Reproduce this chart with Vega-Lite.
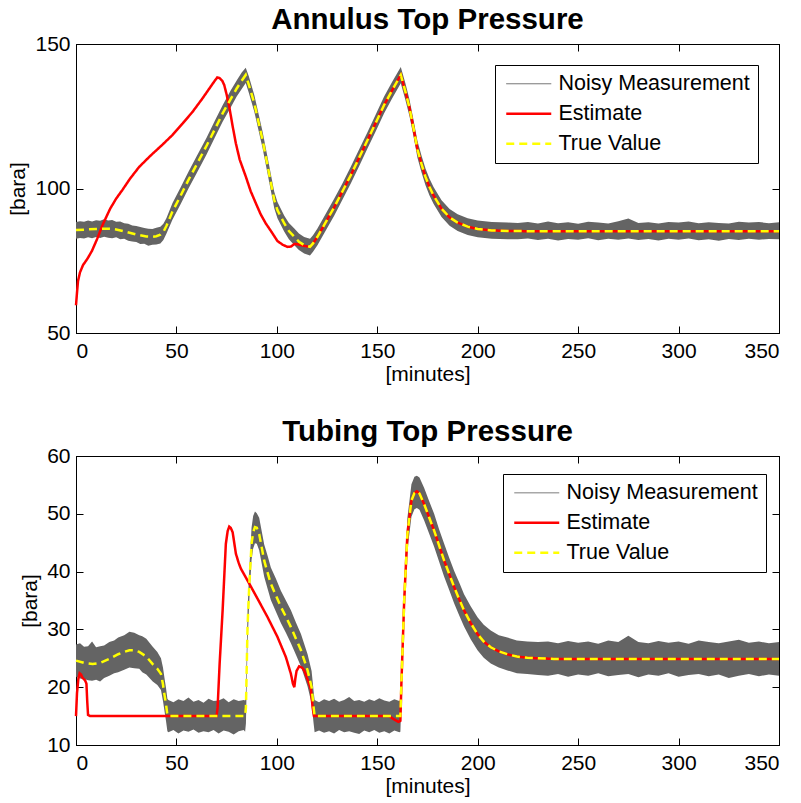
{
  "$schema": "https://vega.github.io/schema/vega-lite/v6.json",
  "background": "white",
  "padding": {"left": 7, "top": 4, "right": 4, "bottom": 4},
  "bounds": "flush",
  "spacing": 123,
  "config": {
    "font": "Liberation Sans",
    "view": {"stroke": "black", "strokeWidth": 1},
    "title": {"fontSize": 29.5, "fontWeight": "bold", "color": "black", "frame": "group", "anchor": "middle", "offset": -2, "font": "Liberation Sans"},
    "axis": {
      "grid": false, "domainColor": "black", "tickColor": "black", "labelColor": "black", "titleColor": "black",
      "labelFontSize": 21, "titleFontSize": 21, "titleFontWeight": "normal", "tickSize": -7, "labelPadding": 14, "titlePadding": 2,
      "labelFont": "Liberation Sans", "titleFont": "Liberation Sans"
    },
    "axisY": {"labelPadding": 13, "titlePadding": 6},
    "legend": {
      "title": null, "labelFontSize": 21.5, "labelColor": "black", "labelFont": "Liberation Sans", "labelLimit": 0,
      "symbolType": "M-1,0H5", "symbolSize": 225, "labelOffset": 34, "padding": 8, "rowPadding": 7,
      "strokeColor": "black", "fillColor": "white"
    }
  },
  "datasets": {
    "annulusMeasured": [
      {"t":0,"lo":82.6,"hi":88.4},{"t":2,"lo":82.9,"hi":88.7},{"t":4,"lo":82.7,"hi":88.5},{"t":6,"lo":83.1,"hi":88.9},
      {"t":8,"lo":82.8,"hi":88.6},{"t":10,"lo":83.2,"hi":89.0},{"t":12,"lo":82.9,"hi":88.8},{"t":14,"lo":83.3,"hi":89.4},
      {"t":16,"lo":83.0,"hi":88.9},{"t":18,"lo":82.8,"hi":89.1},{"t":20,"lo":83.1,"hi":88.5},{"t":22,"lo":82.4,"hi":88.6},
      {"t":24,"lo":82.6,"hi":88.0},{"t":26,"lo":81.9,"hi":87.8},{"t":28,"lo":81.7,"hi":87.2},{"t":30,"lo":81.5,"hi":87.0},
      {"t":32,"lo":80.8,"hi":86.7},{"t":34,"lo":80.9,"hi":86.3},{"t":36,"lo":80.2,"hi":86.1},{"t":38,"lo":80.5,"hi":86.0},
      {"t":40,"lo":80.6,"hi":86.4},{"t":42,"lo":81.0,"hi":86.8},{"t":43.5,"lo":82.2,"hi":87.8},{"t":45,"lo":84.3,"hi":89.7},
      {"t":48,"lo":89.2,"hi":94.9},{"t":52,"lo":94.5,"hi":100.3},{"t":56,"lo":100.0,"hi":105.8},{"t":60,"lo":105.2,"hi":111.1},
      {"t":65,"lo":111.8,"hi":117.6},{"t":69,"lo":117.5,"hi":123.3},{"t":73,"lo":123.1,"hi":128.8},{"t":77,"lo":128.0,"hi":133.9},
      {"t":80,"lo":131.8,"hi":137.4},{"t":82.5,"lo":134.4,"hi":140.1},{"t":84.5,"lo":136.5,"hi":141.8},{"t":86,"lo":133.2,"hi":138.9},
      {"t":88.8,"lo":126.5,"hi":132.3},{"t":92.9,"lo":113.9,"hi":119.6},{"t":95.4,"lo":105.0,"hi":110.7},{"t":98.7,"lo":93.2,"hi":98.9},
      {"t":100.3,"lo":89.7,"hi":95.3},{"t":103.7,"lo":85.0,"hi":90.6},{"t":106,"lo":82.4,"hi":88.1},{"t":108.7,"lo":80.4,"hi":86.2},
      {"t":111,"lo":78.7,"hi":84.4},{"t":113.6,"lo":77.5,"hi":83.2},{"t":116.5,"lo":76.8,"hi":82.6},{"t":118,"lo":78.1,"hi":83.8},
      {"t":120.2,"lo":80.4,"hi":86.2},{"t":124,"lo":85.0,"hi":90.8},{"t":128.6,"lo":90.7,"hi":96.5},{"t":132.5,"lo":95.9,"hi":101.6},
      {"t":136.8,"lo":101.7,"hi":107.5},{"t":141,"lo":107.8,"hi":113.6},{"t":145.1,"lo":113.8,"hi":119.5},{"t":149,"lo":119.5,"hi":125.3},
      {"t":153.4,"lo":126.0,"hi":131.8},{"t":157.5,"lo":131.3,"hi":137.0},{"t":161.7,"lo":136.4,"hi":142.0},{"t":164,"lo":130.6,"hi":136.4},
      {"t":166,"lo":125.1,"hi":130.9},{"t":168,"lo":118.2,"hi":123.9},{"t":170,"lo":110.6,"hi":116.4},{"t":172,"lo":105.6,"hi":111.4},
      {"t":174,"lo":101.1,"hi":106.9},{"t":176,"lo":97.6,"hi":103.4},{"t":178,"lo":94.7,"hi":100.5},{"t":182,"lo":90.1,"hi":95.9},
      {"t":186,"lo":87.1,"hi":92.9},{"t":190,"lo":85.3,"hi":91.1},{"t":195,"lo":83.9,"hi":89.7},{"t":200,"lo":83.1,"hi":88.9},
      {"t":207,"lo":82.6,"hi":88.4},{"t":215,"lo":82.4,"hi":88.2},{"t":220,"lo":82.4,"hi":88.1},{"t":225,"lo":82.7,"hi":88.4},
      {"t":230,"lo":82.2,"hi":87.9},{"t":235,"lo":82.6,"hi":88.6},{"t":240,"lo":82.0,"hi":88.0},{"t":245,"lo":82.5,"hi":88.3},
      {"t":250,"lo":82.3,"hi":87.8},{"t":255,"lo":82.8,"hi":88.5},{"t":260,"lo":82.1,"hi":88.2},{"t":265,"lo":82.6,"hi":87.9},
      {"t":270,"lo":82.3,"hi":88.7},{"t":275,"lo":82.7,"hi":89.6},{"t":280,"lo":82.2,"hi":88.1},{"t":285,"lo":82.5,"hi":88.3},
      {"t":290,"lo":82.0,"hi":87.9},{"t":295,"lo":82.6,"hi":88.4},{"t":300,"lo":82.3,"hi":88.2},{"t":305,"lo":82.7,"hi":88.6},
      {"t":310,"lo":82.1,"hi":88.0},{"t":315,"lo":82.4,"hi":88.3},{"t":320,"lo":81.9,"hi":88.1},{"t":325,"lo":82.5,"hi":87.9},
      {"t":330,"lo":82.2,"hi":88.5},{"t":335,"lo":82.6,"hi":88.2},{"t":340,"lo":82.3,"hi":88.4},{"t":345,"lo":82.5,"hi":88.0},
      {"t":350,"lo":82.4,"hi":88.3}
    ],
    "annulusLines": [
      {"t":0,"v":59.6,"s":"Estimate"},{"t":0.5,"v":64,"s":"Estimate"},{"t":1,"v":68,"s":"Estimate"},{"t":2,"v":71,"s":"Estimate"},
      {"t":3.5,"v":73.5,"s":"Estimate"},{"t":5.8,"v":75.8,"s":"Estimate"},{"t":8,"v":78.5,"s":"Estimate"},{"t":10.5,"v":82.5,"s":"Estimate"},
      {"t":13.3,"v":87.5,"s":"Estimate"},{"t":17,"v":93,"s":"Estimate"},{"t":20,"v":96.5,"s":"Estimate"},{"t":23.2,"v":99.6,"s":"Estimate"},
      {"t":27,"v":103.5,"s":"Estimate"},{"t":31.5,"v":107.5,"s":"Estimate"},{"t":37,"v":111.3,"s":"Estimate"},{"t":43.1,"v":115.2,"s":"Estimate"},
      {"t":48,"v":118.5,"s":"Estimate"},{"t":53.1,"v":122.5,"s":"Estimate"},{"t":58,"v":126.5,"s":"Estimate"},{"t":63,"v":131.2,"s":"Estimate"},
      {"t":67,"v":135.2,"s":"Estimate"},{"t":69,"v":137.2,"s":"Estimate"},{"t":70.3,"v":138.4,"s":"Estimate"},{"t":71.5,"v":138.2,"s":"Estimate"},
      {"t":72.8,"v":137.3,"s":"Estimate"},{"t":73.8,"v":135.8,"s":"Estimate"},{"t":75,"v":132.5,"s":"Estimate"},{"t":76.3,"v":128.3,"s":"Estimate"},
      {"t":78,"v":121.5,"s":"Estimate"},{"t":79.6,"v":115.6,"s":"Estimate"},{"t":81.5,"v":110,"s":"Estimate"},{"t":84.6,"v":104,"s":"Estimate"},
      {"t":87,"v":99,"s":"Estimate"},{"t":89.6,"v":94.8,"s":"Estimate"},{"t":92,"v":91,"s":"Estimate"},{"t":94.5,"v":87.9,"s":"Estimate"},
      {"t":97.9,"v":84.4,"s":"Estimate"},{"t":100.3,"v":81.8,"s":"Estimate"},{"t":103,"v":80.5,"s":"Estimate"},{"t":105.3,"v":79.8,"s":"Estimate"},
      {"t":107,"v":79.9,"s":"Estimate"},{"t":108.7,"v":80.8,"s":"Estimate"},{"t":110.5,"v":80.7,"s":"Estimate"},{"t":112,"v":80.4,"s":"Estimate"},
      {"t":114,"v":80.1,"s":"Estimate"},{"t":116.5,"v":79.8,"s":"Estimate"},{"t":118,"v":81.0,"s":"Estimate"},{"t":120.2,"v":83.3,"s":"Estimate"},
      {"t":124,"v":87.9,"s":"Estimate"},{"t":128.6,"v":93.6,"s":"Estimate"},{"t":132.5,"v":98.8,"s":"Estimate"},{"t":136.8,"v":104.6,"s":"Estimate"},
      {"t":141,"v":110.7,"s":"Estimate"},{"t":145.1,"v":116.7,"s":"Estimate"},{"t":149,"v":122.4,"s":"Estimate"},{"t":153.4,"v":128.9,"s":"Estimate"},
      {"t":157.5,"v":134.1,"s":"Estimate"},{"t":161.7,"v":139.3,"s":"Estimate"},{"t":164,"v":133.5,"s":"Estimate"},{"t":166,"v":128.0,"s":"Estimate"},
      {"t":168,"v":121.0,"s":"Estimate"},{"t":170,"v":113.5,"s":"Estimate"},{"t":172,"v":108.5,"s":"Estimate"},{"t":174,"v":104.0,"s":"Estimate"},
      {"t":176,"v":100.5,"s":"Estimate"},{"t":178,"v":97.6,"s":"Estimate"},{"t":182,"v":93.0,"s":"Estimate"},{"t":186,"v":90.0,"s":"Estimate"},
      {"t":190,"v":88.2,"s":"Estimate"},{"t":195,"v":86.8,"s":"Estimate"},{"t":200,"v":86.0,"s":"Estimate"},{"t":207,"v":85.5,"s":"Estimate"},
      {"t":215,"v":85.3,"s":"Estimate"},{"t":230,"v":85.2,"s":"Estimate"},{"t":350,"v":85.2,"s":"Estimate"},
      {"t":0,"v":85.6,"s":"True Value"},{"t":5,"v":85.8,"s":"True Value"},{"t":10,"v":86.0,"s":"True Value"},{"t":15,"v":86.1,"s":"True Value"},
      {"t":18,"v":86.0,"s":"True Value"},{"t":20,"v":85.8,"s":"True Value"},{"t":25,"v":85.0,"s":"True Value"},{"t":30,"v":84.1,"s":"True Value"},
      {"t":35,"v":83.4,"s":"True Value"},{"t":38,"v":83.3,"s":"True Value"},{"t":40,"v":83.5,"s":"True Value"},{"t":42,"v":84.0,"s":"True Value"},
      {"t":43.5,"v":85.0,"s":"True Value"},{"t":45,"v":87.0,"s":"True Value"},{"t":48,"v":92.0,"s":"True Value"},{"t":52,"v":97.4,"s":"True Value"},
      {"t":56,"v":103.0,"s":"True Value"},{"t":60,"v":108.2,"s":"True Value"},{"t":65,"v":114.8,"s":"True Value"},{"t":69,"v":120.3,"s":"True Value"},
      {"t":73,"v":126.0,"s":"True Value"},{"t":77,"v":130.9,"s":"True Value"},{"t":80,"v":134.6,"s":"True Value"},{"t":82.5,"v":137.3,"s":"True Value"},
      {"t":84.5,"v":139.3,"s":"True Value"},{"t":86,"v":136.0,"s":"True Value"},{"t":88.8,"v":129.4,"s":"True Value"},{"t":92.9,"v":116.7,"s":"True Value"},
      {"t":95.4,"v":107.8,"s":"True Value"},{"t":98.7,"v":96.0,"s":"True Value"},{"t":100.3,"v":92.5,"s":"True Value"},{"t":103.7,"v":87.9,"s":"True Value"},
      {"t":106,"v":85.3,"s":"True Value"},{"t":108.7,"v":83.3,"s":"True Value"},{"t":111,"v":81.6,"s":"True Value"},{"t":113.6,"v":80.4,"s":"True Value"},
      {"t":116.5,"v":79.8,"s":"True Value"},{"t":118,"v":81.0,"s":"True Value"},{"t":120.2,"v":83.3,"s":"True Value"},{"t":124,"v":87.9,"s":"True Value"},
      {"t":128.6,"v":93.6,"s":"True Value"},{"t":132.5,"v":98.8,"s":"True Value"},{"t":136.8,"v":104.6,"s":"True Value"},{"t":141,"v":110.7,"s":"True Value"},
      {"t":145.1,"v":116.7,"s":"True Value"},{"t":149,"v":122.4,"s":"True Value"},{"t":153.4,"v":128.9,"s":"True Value"},{"t":157.5,"v":134.1,"s":"True Value"},
      {"t":161.7,"v":139.3,"s":"True Value"},{"t":164,"v":133.5,"s":"True Value"},{"t":166,"v":128.0,"s":"True Value"},{"t":168,"v":121.0,"s":"True Value"},
      {"t":170,"v":113.5,"s":"True Value"},{"t":172,"v":108.5,"s":"True Value"},{"t":174,"v":104.0,"s":"True Value"},{"t":176,"v":100.5,"s":"True Value"},
      {"t":178,"v":97.6,"s":"True Value"},{"t":182,"v":93.0,"s":"True Value"},{"t":186,"v":90.0,"s":"True Value"},{"t":190,"v":88.2,"s":"True Value"},
      {"t":195,"v":86.8,"s":"True Value"},{"t":200,"v":86.0,"s":"True Value"},{"t":207,"v":85.5,"s":"True Value"},{"t":215,"v":85.3,"s":"True Value"},
      {"t":230,"v":85.2,"s":"True Value"},{"t":350,"v":85.2,"s":"True Value"}
    ],
    "tubingMeasured": [
      {"t":0,"lo":21.8,"hi":27.4},{"t":2,"lo":21.5,"hi":27.6},{"t":4,"lo":21.4,"hi":27.0},{"t":6,"lo":21.2,"hi":27.1},
      {"t":8,"lo":21.1,"hi":27.9},{"t":10,"lo":21.3,"hi":26.9},{"t":12,"lo":21.0,"hi":27.1},{"t":14,"lo":21.6,"hi":27.2},
      {"t":16.6,"lo":22.0,"hi":27.8},{"t":19,"lo":22.4,"hi":28.1},{"t":21,"lo":22.6,"hi":28.6},{"t":24,"lo":23.0,"hi":29.0},
      {"t":26.6,"lo":23.4,"hi":29.6},{"t":29,"lo":23.3,"hi":29.4},{"t":31.5,"lo":23.2,"hi":29.0},{"t":33,"lo":22.6,"hi":28.8},
      {"t":35,"lo":22.2,"hi":28.4},{"t":38.2,"lo":21.0,"hi":27.0},{"t":40.5,"lo":20.4,"hi":26.1},{"t":42.3,"lo":19.5,"hi":25.0},
      {"t":43.3,"lo":17.6,"hi":23.4},{"t":44,"lo":16.0,"hi":21.7},{"t":44.8,"lo":14.2,"hi":19.9},{"t":45.5,"lo":12.4,"hi":18.0},
      {"t":46,"lo":12.2,"hi":17.8},{"t":48.5,"lo":12.6,"hi":17.4},{"t":51,"lo":12.0,"hi":17.9},{"t":53.5,"lo":12.5,"hi":17.6},
      {"t":56,"lo":12.3,"hi":18.2},{"t":58.5,"lo":12.7,"hi":17.5},{"t":61,"lo":12.1,"hi":17.8},{"t":63.5,"lo":12.4,"hi":17.3},
      {"t":66,"lo":12.2,"hi":18.0},{"t":68.5,"lo":12.6,"hi":17.6},{"t":71,"lo":12.0,"hi":17.7},{"t":73.5,"lo":12.5,"hi":18.1},
      {"t":76,"lo":12.3,"hi":17.4},{"t":78.5,"lo":11.8,"hi":17.9},{"t":81,"lo":12.4,"hi":17.6},{"t":83.5,"lo":12.6,"hi":17.8},
      {"t":84.2,"lo":12.3,"hi":17.7},{"t":84.6,"lo":13.7,"hi":19.3},{"t":85.4,"lo":27.6,"hi":33.2},{"t":86.3,"lo":35.1,"hi":40.7},
      {"t":87.4,"lo":42.0,"hi":47.6},{"t":88.2,"lo":44.0,"hi":49.6},{"t":89.1,"lo":44.9,"hi":50.4},{"t":90,"lo":44.8,"hi":50.1},
      {"t":91.2,"lo":43.7,"hi":49.3},{"t":93.7,"lo":39.1,"hi":44.7},{"t":95.5,"lo":36.9,"hi":42.6},{"t":97,"lo":35.1,"hi":40.7},
      {"t":99.5,"lo":33.1,"hi":38.8},{"t":102,"lo":31.1,"hi":36.7},{"t":104.5,"lo":29.4,"hi":35.0},{"t":107,"lo":27.6,"hi":33.3},
      {"t":109.5,"lo":25.6,"hi":31.2},{"t":112,"lo":23.6,"hi":29.2},{"t":115.3,"lo":20.1,"hi":25.7},{"t":117.3,"lo":17.2,"hi":22.8},
      {"t":118.3,"lo":13.7,"hi":19.3},{"t":118.8,"lo":12.2,"hi":17.8},{"t":121,"lo":12.5,"hi":17.4},{"t":123.5,"lo":12.1,"hi":17.9},
      {"t":126,"lo":12.4,"hi":17.6},{"t":128.5,"lo":12.0,"hi":18.0},{"t":131,"lo":12.6,"hi":17.5},{"t":133.5,"lo":12.2,"hi":17.8},
      {"t":136,"lo":12.4,"hi":18.3},{"t":138.5,"lo":12.1,"hi":17.6},{"t":141,"lo":11.9,"hi":17.8},{"t":143.5,"lo":12.5,"hi":17.5},
      {"t":146,"lo":12.2,"hi":17.9},{"t":148.5,"lo":12.6,"hi":17.6},{"t":151,"lo":12.1,"hi":18.1},{"t":153.5,"lo":12.4,"hi":17.7},
      {"t":156,"lo":12.0,"hi":17.5},{"t":158.5,"lo":12.5,"hi":17.9},{"t":161,"lo":12.2,"hi":17.6},{"t":161.5,"lo":12.3,"hi":17.8},
      {"t":162,"lo":17.8,"hi":23.4},{"t":163.4,"lo":32.2,"hi":37.8},{"t":165,"lo":43.7,"hi":49.3},{"t":167,"lo":49.5,"hi":55.1},
      {"t":168.5,"lo":50.8,"hi":56.4},{"t":169.7,"lo":51.0,"hi":56.6},{"t":171,"lo":50.7,"hi":56.3},{"t":173.3,"lo":48.9,"hi":54.5},
      {"t":175.8,"lo":46.6,"hi":52.2},{"t":178.3,"lo":44.3,"hi":50.0},{"t":180.8,"lo":41.7,"hi":47.3},{"t":183.3,"lo":39.1,"hi":44.8},
      {"t":185.8,"lo":36.8,"hi":42.4},{"t":188.3,"lo":34.5,"hi":40.1},{"t":190.8,"lo":32.4,"hi":38.1},{"t":193.2,"lo":30.5,"hi":36.1},
      {"t":196.5,"lo":28.3,"hi":34.0},{"t":199.9,"lo":26.4,"hi":32.1},{"t":203,"lo":25.1,"hi":30.8},{"t":206.5,"lo":24.1,"hi":29.8},
      {"t":210.5,"lo":23.4,"hi":29.0},{"t":214.8,"lo":22.9,"hi":28.6},{"t":219.5,"lo":22.4,"hi":28.1},{"t":224.7,"lo":22.3,"hi":27.9},
      {"t":230,"lo":22.1,"hi":27.8},{"t":235,"lo":22.0,"hi":27.9},{"t":240,"lo":22.3,"hi":27.6},{"t":245,"lo":21.8,"hi":28.0},
      {"t":250,"lo":22.2,"hi":27.7},{"t":255,"lo":22.0,"hi":27.9},{"t":260,"lo":22.4,"hi":27.5},{"t":265,"lo":21.9,"hi":28.1},
      {"t":270,"lo":22.1,"hi":27.8},{"t":275,"lo":22.3,"hi":28.9},{"t":280,"lo":21.7,"hi":27.8},{"t":285,"lo":22.2,"hi":27.6},
      {"t":290,"lo":22.0,"hi":28.0},{"t":295,"lo":22.4,"hi":27.7},{"t":300,"lo":21.8,"hi":27.9},{"t":305,"lo":22.1,"hi":27.5},
      {"t":310,"lo":22.3,"hi":28.1},{"t":315,"lo":21.9,"hi":27.8},{"t":320,"lo":22.2,"hi":27.6},{"t":325,"lo":21.6,"hi":27.9},
      {"t":330,"lo":22.0,"hi":28.2},{"t":335,"lo":22.3,"hi":27.7},{"t":340,"lo":21.9,"hi":27.9},{"t":345,"lo":22.2,"hi":27.6},
      {"t":350,"lo":22.0,"hi":27.8}
    ],
    "tubingLines": [
      {"t":0,"v":15.0,"s":"Estimate"},{"t":0.5,"v":19.0,"s":"Estimate"},{"t":1.2,"v":21.5,"s":"Estimate"},{"t":1.8,"v":22.4,"s":"Estimate"},
      {"t":2.5,"v":22.2,"s":"Estimate"},{"t":3.3,"v":21.6,"s":"Estimate"},{"t":4.5,"v":21.2,"s":"Estimate"},{"t":5.2,"v":20.6,"s":"Estimate"},
      {"t":5.6,"v":17.5,"s":"Estimate"},{"t":6,"v":15.2,"s":"Estimate"},{"t":7,"v":15.0,"s":"Estimate"},{"t":70,"v":15.0,"s":"Estimate"},
      {"t":70.5,"v":16.5,"s":"Estimate"},{"t":71.5,"v":24.0,"s":"Estimate"},{"t":73,"v":33.3,"s":"Estimate"},{"t":74.6,"v":44.8,"s":"Estimate"},
      {"t":75.5,"v":47.0,"s":"Estimate"},{"t":76.3,"v":47.8,"s":"Estimate"},{"t":77,"v":47.6,"s":"Estimate"},{"t":78,"v":46.8,"s":"Estimate"},
      {"t":79.6,"v":43.1,"s":"Estimate"},{"t":81,"v":41.5,"s":"Estimate"},{"t":82.1,"v":40.5,"s":"Estimate"},{"t":86.3,"v":37.9,"s":"Estimate"},
      {"t":90.4,"v":35.3,"s":"Estimate"},{"t":95.4,"v":32.1,"s":"Estimate"},{"t":100.3,"v":28.7,"s":"Estimate"},{"t":104.5,"v":25.2,"s":"Estimate"},
      {"t":107,"v":22.3,"s":"Estimate"},{"t":108,"v":20.6,"s":"Estimate"},{"t":108.7,"v":20.0,"s":"Estimate"},{"t":109.2,"v":21.5,"s":"Estimate"},
      {"t":109.8,"v":22.8,"s":"Estimate"},{"t":111.1,"v":23.6,"s":"Estimate"},{"t":112.5,"v":23.4,"s":"Estimate"},{"t":113.6,"v":22.9,"s":"Estimate"},
      {"t":116.1,"v":20.6,"s":"Estimate"},{"t":117,"v":19.5,"s":"Estimate"},{"t":117.8,"v":16.5,"s":"Estimate"},{"t":118.5,"v":15.0,"s":"Estimate"},
      {"t":156,"v":15.0,"s":"Estimate"},{"t":158,"v":14.5,"s":"Estimate"},{"t":160.5,"v":14.0,"s":"Estimate"},{"t":161.5,"v":14.2,"s":"Estimate"},
      {"t":162,"v":20.6,"s":"Estimate"},{"t":163.4,"v":35.0,"s":"Estimate"},{"t":165,"v":46.5,"s":"Estimate"},{"t":167,"v":52.3,"s":"Estimate"},
      {"t":168.5,"v":53.6,"s":"Estimate"},{"t":169.7,"v":53.9,"s":"Estimate"},{"t":171,"v":53.5,"s":"Estimate"},{"t":173.3,"v":51.7,"s":"Estimate"},
      {"t":175.8,"v":49.4,"s":"Estimate"},{"t":178.3,"v":47.1,"s":"Estimate"},{"t":180.8,"v":44.5,"s":"Estimate"},{"t":183.3,"v":41.9,"s":"Estimate"},
      {"t":185.8,"v":39.6,"s":"Estimate"},{"t":188.3,"v":37.3,"s":"Estimate"},{"t":190.8,"v":35.2,"s":"Estimate"},{"t":193.2,"v":33.3,"s":"Estimate"},
      {"t":196.5,"v":31.1,"s":"Estimate"},{"t":199.9,"v":29.2,"s":"Estimate"},{"t":203,"v":27.9,"s":"Estimate"},{"t":206.5,"v":26.9,"s":"Estimate"},
      {"t":210.5,"v":26.2,"s":"Estimate"},{"t":214.8,"v":25.7,"s":"Estimate"},{"t":219.5,"v":25.3,"s":"Estimate"},{"t":224.7,"v":25.1,"s":"Estimate"},
      {"t":230,"v":25.0,"s":"Estimate"},{"t":238,"v":24.9,"s":"Estimate"},{"t":350,"v":24.9,"s":"Estimate"},
      {"t":0,"v":24.6,"s":"True Value"},{"t":4,"v":24.2,"s":"True Value"},{"t":8.3,"v":24.0,"s":"True Value"},{"t":12,"v":24.2,"s":"True Value"},
      {"t":16.6,"v":24.9,"s":"True Value"},{"t":21,"v":25.7,"s":"True Value"},{"t":24,"v":26.1,"s":"True Value"},{"t":26.6,"v":26.4,"s":"True Value"},
      {"t":29,"v":26.4,"s":"True Value"},{"t":31.5,"v":26.1,"s":"True Value"},{"t":35,"v":25.3,"s":"True Value"},{"t":38.2,"v":24.0,"s":"True Value"},
      {"t":40.5,"v":23.2,"s":"True Value"},{"t":42.3,"v":22.3,"s":"True Value"},{"t":43.3,"v":20.5,"s":"True Value"},{"t":44,"v":18.8,"s":"True Value"},
      {"t":44.8,"v":17.1,"s":"True Value"},{"t":45.5,"v":15.2,"s":"True Value"},{"t":46,"v":15.0,"s":"True Value"},{"t":84.2,"v":15.0,"s":"True Value"},
      {"t":84.6,"v":16.5,"s":"True Value"},{"t":85.4,"v":30.4,"s":"True Value"},{"t":86.3,"v":37.9,"s":"True Value"},{"t":87.4,"v":44.8,"s":"True Value"},
      {"t":88.2,"v":46.8,"s":"True Value"},{"t":89.1,"v":47.7,"s":"True Value"},{"t":90,"v":47.6,"s":"True Value"},{"t":91.2,"v":46.5,"s":"True Value"},
      {"t":93.7,"v":41.9,"s":"True Value"},{"t":95.5,"v":39.7,"s":"True Value"},{"t":97,"v":37.9,"s":"True Value"},{"t":99.5,"v":35.9,"s":"True Value"},
      {"t":102,"v":33.9,"s":"True Value"},{"t":104.5,"v":32.2,"s":"True Value"},{"t":107,"v":30.4,"s":"True Value"},{"t":109.5,"v":28.4,"s":"True Value"},
      {"t":112,"v":26.4,"s":"True Value"},{"t":115.3,"v":22.9,"s":"True Value"},{"t":117.3,"v":20.0,"s":"True Value"},{"t":118.3,"v":16.5,"s":"True Value"},
      {"t":118.8,"v":15.0,"s":"True Value"},{"t":161.5,"v":15.0,"s":"True Value"},{"t":162,"v":20.6,"s":"True Value"},{"t":163.4,"v":35.0,"s":"True Value"},
      {"t":165,"v":46.5,"s":"True Value"},{"t":167,"v":52.3,"s":"True Value"},{"t":168.5,"v":53.6,"s":"True Value"},{"t":169.7,"v":53.9,"s":"True Value"},
      {"t":171,"v":53.5,"s":"True Value"},{"t":173.3,"v":51.7,"s":"True Value"},{"t":175.8,"v":49.4,"s":"True Value"},{"t":178.3,"v":47.1,"s":"True Value"},
      {"t":180.8,"v":44.5,"s":"True Value"},{"t":183.3,"v":41.9,"s":"True Value"},{"t":185.8,"v":39.6,"s":"True Value"},{"t":188.3,"v":37.3,"s":"True Value"},
      {"t":190.8,"v":35.2,"s":"True Value"},{"t":193.2,"v":33.3,"s":"True Value"},{"t":196.5,"v":31.1,"s":"True Value"},{"t":199.9,"v":29.2,"s":"True Value"},
      {"t":203,"v":27.9,"s":"True Value"},{"t":206.5,"v":26.9,"s":"True Value"},{"t":210.5,"v":26.2,"s":"True Value"},{"t":214.8,"v":25.7,"s":"True Value"},
      {"t":219.5,"v":25.3,"s":"True Value"},{"t":224.7,"v":25.1,"s":"True Value"},{"t":230,"v":25.0,"s":"True Value"},{"t":238,"v":24.9,"s":"True Value"},
      {"t":350,"v":24.9,"s":"True Value"}
    ]
  },
  "vconcat": [
    {
      "title": "Annulus Top Pressure",
      "width": 703,
      "height": 289,
      "layer": [
        {
          "data": {"name": "annulusMeasured"},
          "mark": {"type": "area", "color": "#646464", "opacity": 1},
          "encoding": {
            "x": {"field": "t", "type": "quantitative", "scale": {"domain": [0, 350], "nice": false},
                  "axis": {"orient": "top", "labels": false, "title": null, "minExtent": 0, "maxExtent": 0, "values": [0, 50, 100, 150, 200, 250, 300, 350]}},
            "y": {"field": "lo", "type": "quantitative", "scale": {"domain": [50, 150], "nice": false},
                  "axis": {"orient": "right", "labels": false, "title": null, "minExtent": 0, "maxExtent": 0, "values": [50, 100, 150]}},
            "y2": {"field": "hi"}
          }
        },
        {
          "data": {"name": "annulusLines"},
          "mark": {"type": "line", "strokeCap": "butt"},
          "encoding": {
            "x": {"field": "t", "type": "quantitative", "axis": {"title": "[minutes]", "values": [0, 50, 100, 150, 200, 250, 300, 350]}},
            "y": {"field": "v", "type": "quantitative", "axis": {"title": "[bara]", "values": [50, 100, 150]}},
            "color": {"field": "s", "type": "nominal",
                      "scale": {"domain": ["Noisy Measurement", "Estimate", "True Value"], "range": ["#646464", "#ff0000", "#ffff00"]},
                      "legend": {"orient": "none", "legendX": 419, "legendY": 21}},
            "strokeDash": {"field": "s", "type": "nominal",
                           "scale": {"domain": ["Noisy Measurement", "Estimate", "True Value"], "range": [[1, 0], [1, 0], [8, 5]]},
                           "legend": {"orient": "none", "legendX": 419, "legendY": 21}},
            "strokeWidth": {"field": "s", "type": "nominal",
                            "scale": {"type": "ordinal", "domain": ["Noisy Measurement", "Estimate", "True Value"], "range": [1, 2.5, 2.5]},
                            "legend": {"orient": "none", "legendX": 419, "legendY": 21}}
          }
        }
      ],
      "resolve": {"axis": {"x": "independent", "y": "independent"}}
    },
    {
      "title": "Tubing Top Pressure",
      "width": 703,
      "height": 289,
      "layer": [
        {
          "data": {"name": "tubingMeasured"},
          "mark": {"type": "area", "color": "#646464", "opacity": 1},
          "encoding": {
            "x": {"field": "t", "type": "quantitative", "scale": {"domain": [0, 350], "nice": false},
                  "axis": {"orient": "top", "labels": false, "title": null, "minExtent": 0, "maxExtent": 0, "values": [0, 50, 100, 150, 200, 250, 300, 350]}},
            "y": {"field": "lo", "type": "quantitative", "scale": {"domain": [10, 60], "nice": false},
                  "axis": {"orient": "right", "labels": false, "title": null, "minExtent": 0, "maxExtent": 0, "values": [10, 20, 30, 40, 50, 60]}},
            "y2": {"field": "hi"}
          }
        },
        {
          "data": {"name": "tubingLines"},
          "mark": {"type": "line", "strokeCap": "butt"},
          "encoding": {
            "x": {"field": "t", "type": "quantitative", "axis": {"title": "[minutes]", "values": [0, 50, 100, 150, 200, 250, 300, 350]}},
            "y": {"field": "v", "type": "quantitative", "axis": {"title": "[bara]", "values": [10, 20, 30, 40, 50, 60]}},
            "color": {"field": "s", "type": "nominal",
                      "scale": {"domain": ["Noisy Measurement", "Estimate", "True Value"], "range": ["#a8a8a8", "#ff0000", "#ffff00"]},
                      "legend": {"orient": "none", "legendX": 427, "legendY": 18}},
            "strokeDash": {"field": "s", "type": "nominal",
                           "scale": {"domain": ["Noisy Measurement", "Estimate", "True Value"], "range": [[1, 0], [1, 0], [8, 5]]},
                           "legend": {"orient": "none", "legendX": 427, "legendY": 18}},
            "strokeWidth": {"field": "s", "type": "nominal",
                            "scale": {"type": "ordinal", "domain": ["Noisy Measurement", "Estimate", "True Value"], "range": [1.5, 2.5, 2.5]},
                            "legend": {"orient": "none", "legendX": 427, "legendY": 18}}
          }
        }
      ],
      "resolve": {"axis": {"x": "independent", "y": "independent"}}
    }
  ],
  "resolve": {
    "scale": {"color": "independent", "strokeDash": "independent", "strokeWidth": "independent"},
    "legend": {"color": "independent", "strokeDash": "independent", "strokeWidth": "independent"}
  }
}
